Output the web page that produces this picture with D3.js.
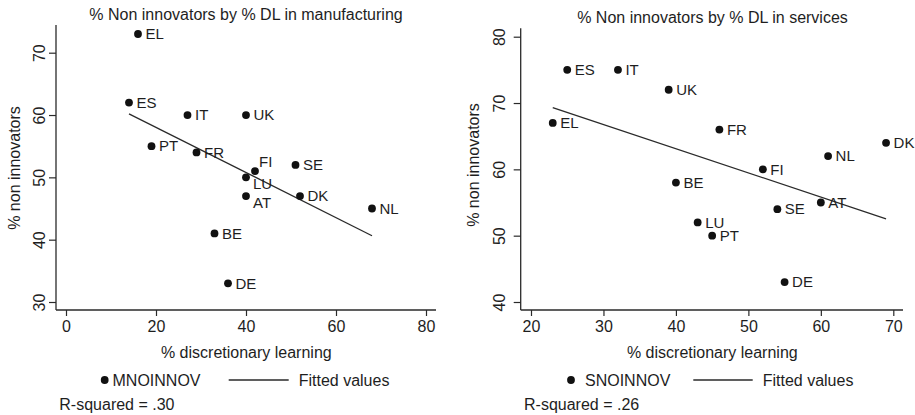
<!DOCTYPE html>
<html>
<head>
<meta charset="utf-8">
<script src="https://cdn.jsdelivr.net/npm/d3@7"></script>
<style>
  html, body { margin: 0; padding: 0; background: #fff; }
  svg { display: block; font-family: "Liberation Sans", Arial, Helvetica, sans-serif; }
</style>
</head>
<body>
<svg id="chart" width="915" height="415"></svg>
<script>
// Manufacturing: share of non-innovating firms vs share of discretionary learning
const mfgCountries = ["EL", "ES", "IT", "UK", "PT", "FR", "FI", "SE", "LU", "AT", "DK", "NL", "BE", "DE"];
const mfgDL        = [16, 14, 27, 40, 19, 29, 42, 51, 40, 40, 52, 68, 33, 36];
const mfgNonInnov  = [73, 62, 60, 60, 55, 54, 51, 52, 50, 47, 47, 45, 41, 33];
const mfgXTicks = [0, 20, 40, 60, 80];
const mfgYTicks = [30, 40, 50, 60, 70];

// Services
const svcCountries = ["ES", "IT", "UK", "EL", "FR", "DK", "NL", "FI", "BE", "AT", "SE", "LU", "PT", "DE"];
const svcDL        = [25, 32, 39, 23, 46, 69, 61, 52, 40, 60, 54, 43, 45, 55];
const svcNonInnov  = [75, 75, 72, 67, 66, 64, 62, 60, 58, 55, 54, 52, 50, 43];
const svcXTicks = [20, 30, 40, 50, 60, 70];
const svcYTicks = [40, 50, 60, 70, 80];

// Marker-label clock positions (default 3 o'clock)
const mfgLabelPos = { FI: 1, LU: 4, AT: 4 };
const svcLabelPos = {};

const TEXT = "#1e1e1e";
const LINE = "#2a2a2a";

const svg = d3.select("#chart");

function ols(xs, ys) {
  const mx = d3.mean(xs), my = d3.mean(ys);
  let sxy = 0, sxx = 0, syy = 0;
  xs.forEach((x, i) => {
    sxy += (x - mx) * (ys[i] - my);
    sxx += (x - mx) ** 2;
    syy += (ys[i] - my) ** 2;
  });
  const b = sxy / sxx;
  return { a: my - b * mx, b, r2: (sxy * sxy) / (sxx * syy) };
}

function panel(cfg) {
  const g = svg.append("g");
  const x = d3.scaleLinear().domain(cfg.xDomain).range(cfg.xRange);
  const y = d3.scaleLinear().domain(cfg.yDomain).range(cfg.yRange);

  // title
  g.append("text")
    .attr("x", cfg.titleX).attr("y", cfg.titleY)
    .attr("text-anchor", "middle")
    .attr("font-size", 16).attr("fill", TEXT)
    .text(cfg.title);

  // axis lines
  g.append("line")
    .attr("x1", cfg.yAxisX).attr("x2", cfg.yAxisX)
    .attr("y1", cfg.axisTop).attr("y2", cfg.xAxisY)
    .attr("stroke", LINE).attr("stroke-width", 1.3);
  g.append("line")
    .attr("x1", cfg.yAxisX).attr("x2", cfg.axisRight)
    .attr("y1", cfg.xAxisY).attr("y2", cfg.xAxisY)
    .attr("stroke", LINE).attr("stroke-width", 1.3);

  // x axis ticks and labels
  const xa = g.append("g")
    .attr("transform", `translate(0,${cfg.xAxisY})`)
    .call(d3.axisBottom(x).tickValues(cfg.xTicks).tickSize(6).tickSizeOuter(0).tickFormat(d3.format("d")));
  xa.select(".domain").remove();
  xa.selectAll(".tick line").attr("stroke", LINE).attr("stroke-width", 1.2);
  xa.selectAll(".tick text")
    .attr("y", 21.5).attr("dy", null)
    .attr("font-size", 16).attr("font-family", null).attr("fill", TEXT);

  // y axis ticks and rotated labels
  const ya = g.append("g")
    .attr("transform", `translate(${cfg.yAxisX},0)`)
    .call(d3.axisLeft(y).tickValues(cfg.yTicks).tickSize(7).tickSizeOuter(0).tickFormat(d3.format("d")));
  ya.select(".domain").remove();
  ya.selectAll(".tick line").attr("stroke", LINE).attr("stroke-width", 1.2);
  ya.selectAll(".tick text")
    .attr("x", 0).attr("y", -cfg.yLabelGap).attr("dy", null)
    .attr("transform", "rotate(-90)")
    .attr("text-anchor", "middle")
    .attr("font-size", 16).attr("font-family", null).attr("fill", TEXT);

  // axis titles
  g.append("text")
    .attr("x", cfg.xTitleX).attr("y", 357.5)
    .attr("text-anchor", "middle").attr("font-size", 16).attr("fill", TEXT)
    .text("% discretionary learning");
  g.append("text")
    .attr("transform", `translate(${cfg.yTitleX},${cfg.yTitleY}) rotate(-90)`)
    .attr("text-anchor", "middle").attr("font-size", 16).attr("fill", TEXT)
    .text("% non innovators");

  // fitted line
  const fit = ols(cfg.xs, cfg.ys);
  const [x0, x1] = d3.extent(cfg.xs);
  g.append("line")
    .attr("x1", x(x0)).attr("y1", y(fit.a + fit.b * x0))
    .attr("x2", x(x1)).attr("y2", y(fit.a + fit.b * x1))
    .attr("stroke", LINE).attr("stroke-width", 1.3);

  // markers and labels
  const pts = cfg.names.map((n, i) => ({ n, x: cfg.xs[i], y: cfg.ys[i] }));
  g.selectAll("circle.pt").data(pts).join("circle")
    .attr("class", "pt")
    .attr("cx", d => x(d.x)).attr("cy", d => y(d.y))
    .attr("r", 3.9).attr("fill", "#111");
  const off = { 1: [4, -9.5], 3: [7.5, 0], 4: [7, 6.5] };
  g.selectAll("text.lbl").data(pts).join("text")
    .attr("class", "lbl")
    .attr("x", d => x(d.x) + off[cfg.labelPos[d.n] || 3][0])
    .attr("y", d => y(d.y) + off[cfg.labelPos[d.n] || 3][1] + 5.3)
    .attr("font-size", 15).attr("fill", TEXT)
    .text(d => d.n);

  // legend
  g.append("circle").attr("cx", cfg.legMarkX).attr("cy", 380).attr("r", 3.9).attr("fill", "#111");
  g.append("text").attr("x", cfg.legTextX).attr("y", 385.5)
    .attr("font-size", 16).attr("fill", TEXT).text(cfg.seriesName);
  g.append("line")
    .attr("x1", cfg.legLine[0]).attr("x2", cfg.legLine[1])
    .attr("y1", 380).attr("y2", 380)
    .attr("stroke", LINE).attr("stroke-width", 1.3);
  g.append("text").attr("x", cfg.legLine[1] + 10).attr("y", 385.5)
    .attr("font-size", 16).attr("fill", TEXT).text("Fitted values");

  g.append("text").attr("x", cfg.r2X).attr("y", 409.5)
    .attr("font-size", 16).attr("fill", TEXT)
    .text("R-squared = " + d3.format(".2f")(fit.r2).replace(/^0/, ""));
}

panel({
  title: "% Non innovators by % DL in manufacturing",
  titleX: 246, titleY: 19.5,
  names: mfgCountries, xs: mfgDL, ys: mfgNonInnov, labelPos: mfgLabelPos,
  xDomain: [0, 80], xRange: [66, 426],
  yDomain: [30, 70], yRange: [302, 52.7],
  xTicks: mfgXTicks, yTicks: mfgYTicks,
  yAxisX: 56, xAxisY: 310, axisTop: 25, axisRight: 436,
  yLabelGap: 11,
  xTitleX: 246.3, yTitleX: 20, yTitleY: 168,
  seriesName: "MNOINNOV", legMarkX: 104.7, legTextX: 112.5, legLine: [228.7, 288.7],
  r2X: 59.3
});

panel({
  title: "% Non innovators by % DL in services",
  titleX: 712.5, titleY: 23,
  names: svcCountries, xs: svcDL, ys: svcNonInnov, labelPos: svcLabelPos,
  xDomain: [20, 70], xRange: [531, 893.3],
  yDomain: [40, 80], yRange: [302, 36.7],
  xTicks: svcXTicks, yTicks: svcYTicks,
  yAxisX: 520.7, xAxisY: 310, axisTop: 28.3, axisRight: 903,
  yLabelGap: 15.7,
  xTitleX: 712.3, yTitleX: 479, yTitleY: 165,
  seriesName: "SNOINNOV", legMarkX: 571, legTextX: 585, legLine: [693.3, 752.7],
  r2X: 524
});
</script>
</body>
</html>
